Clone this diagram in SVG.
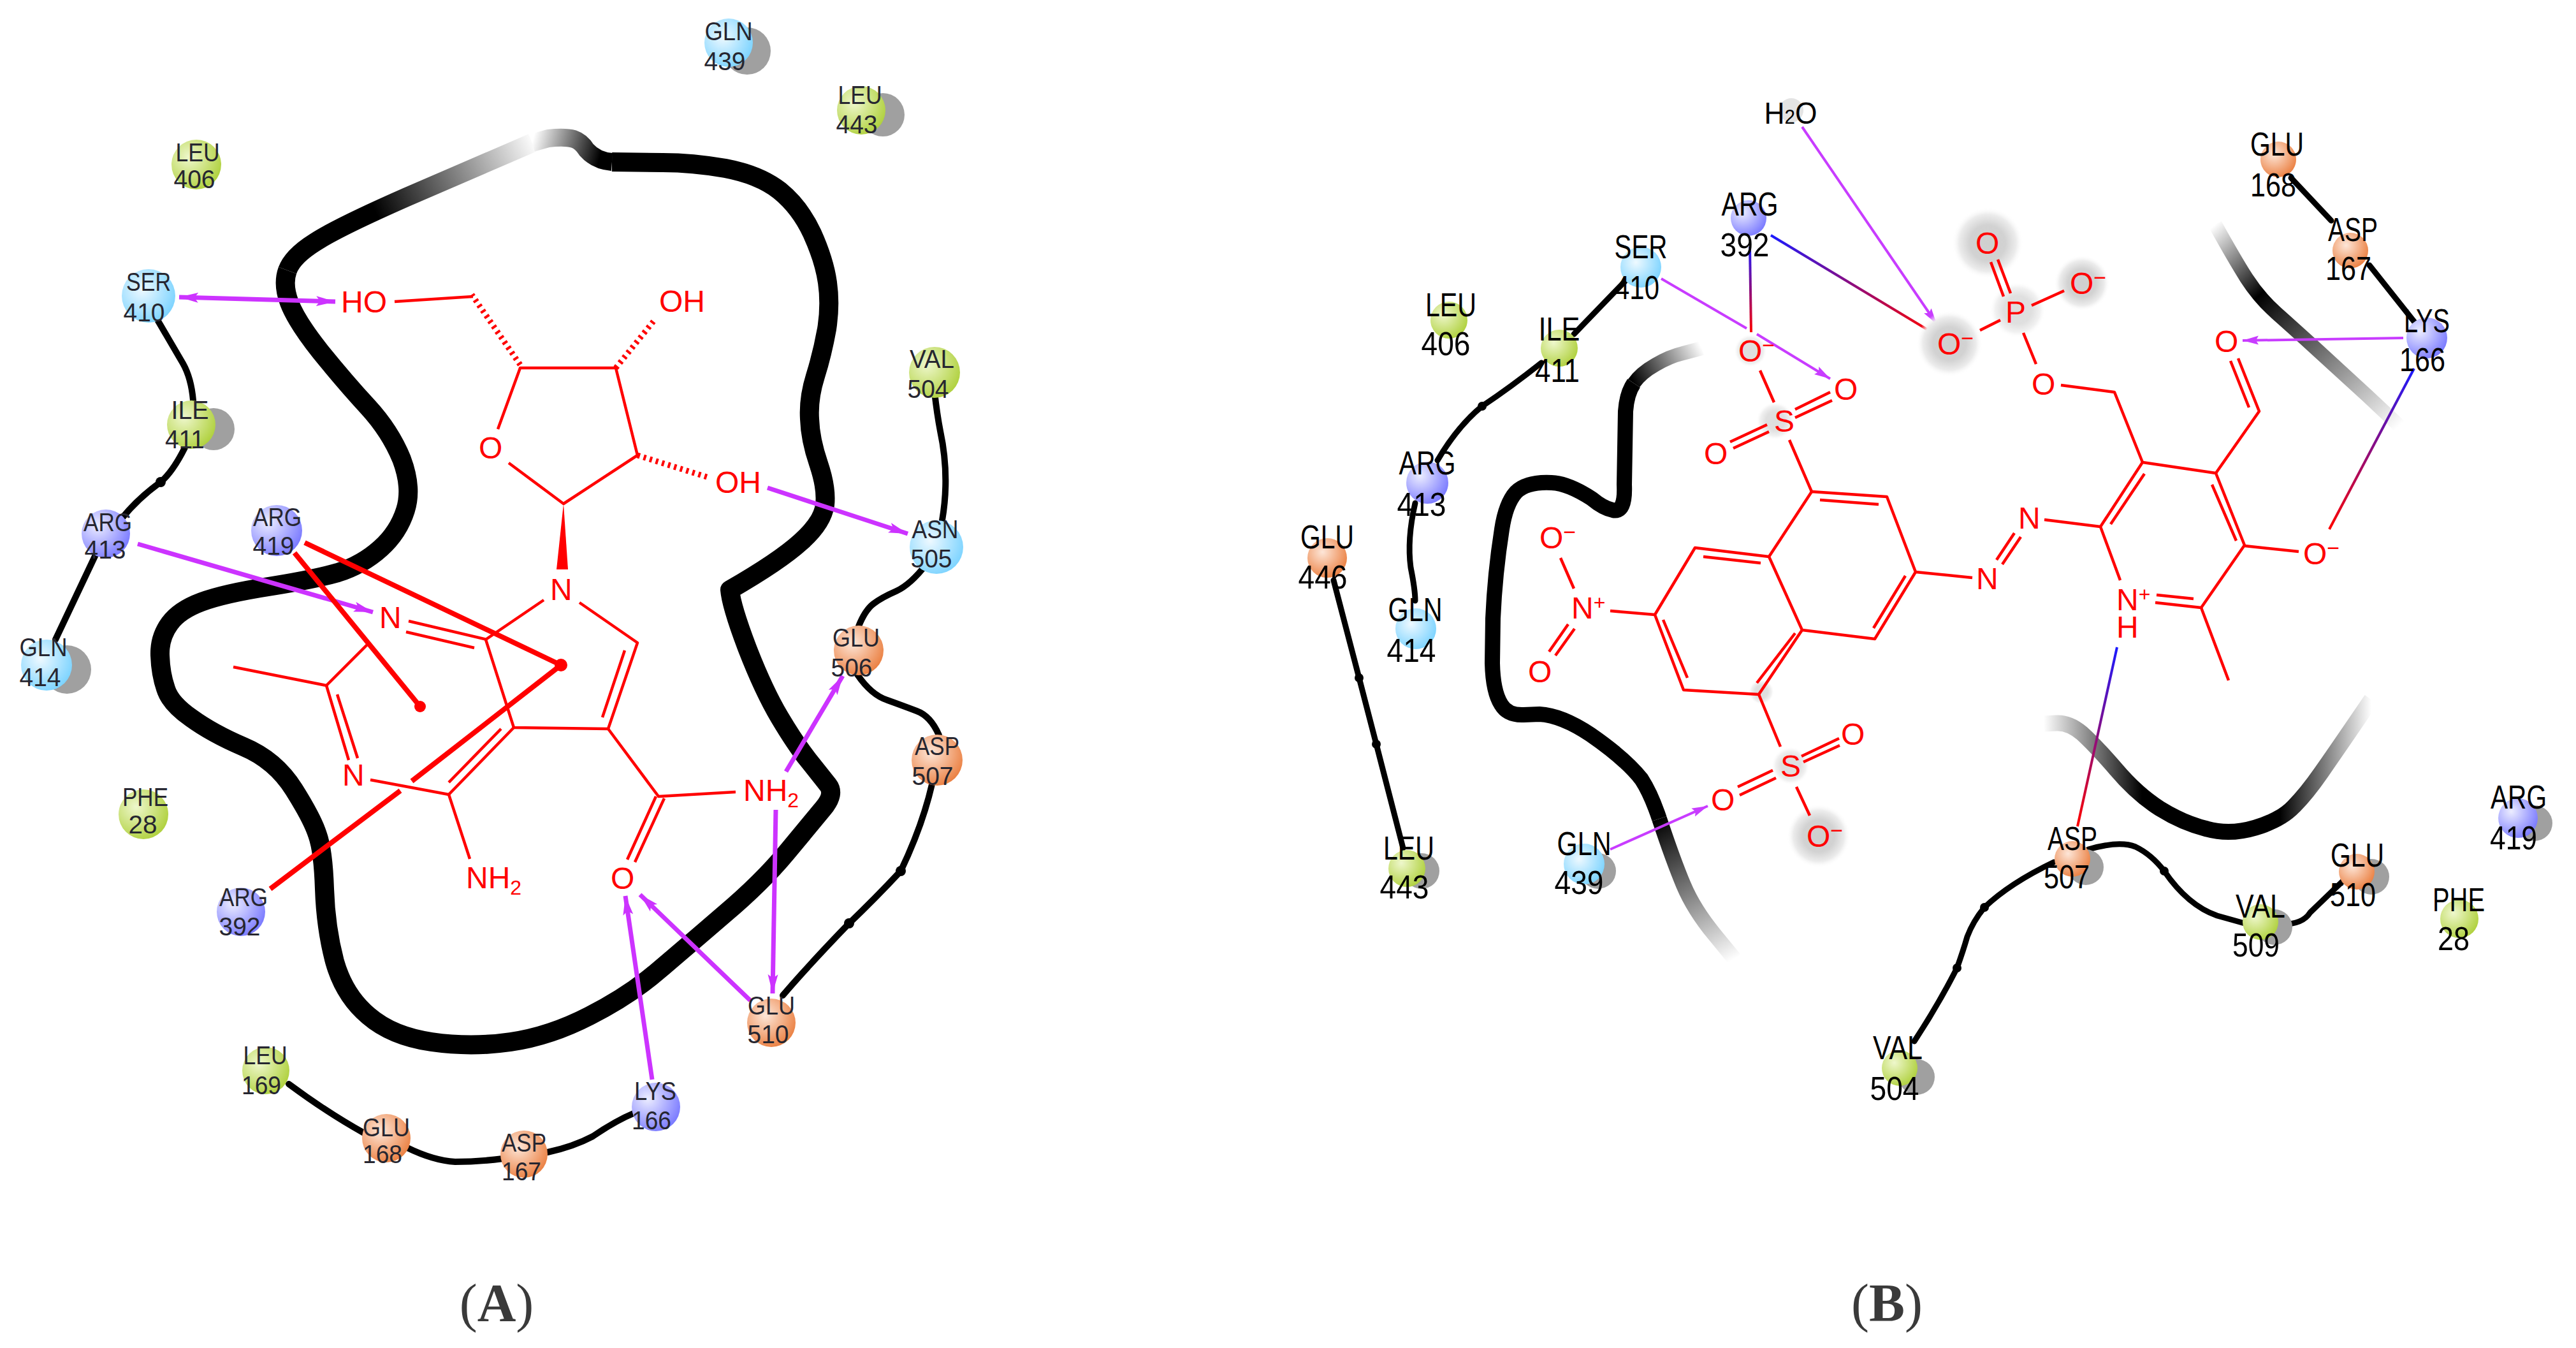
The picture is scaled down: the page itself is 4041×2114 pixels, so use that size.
<svg xmlns="http://www.w3.org/2000/svg" width="4041" height="2114" viewBox="0 0 4041 2114">
<style>
text{font-family:"Liberation Sans",Arial,sans-serif}
.la{font-size:40px;fill:#262630;text-anchor:middle}
.lb{font-size:52px;fill:#000;text-anchor:middle}
.ma{font-size:48px;fill:#f00}
.mb{font-size:48px;fill:#f00}
.cap{font-family:"Liberation Serif","Times New Roman",serif;font-size:84px;fill:#3a3a3a;text-anchor:middle}
.cap tspan{font-weight:bold}
.gn{fill:url(#nGreen)}.cy{fill:url(#nCyan)}.or{fill:url(#nOrange)}.bl{fill:url(#nBlue)}
.sh{fill:#a0a0a0}
.mem{fill:none;stroke:#000;stroke-linejoin:round}
.chA{fill:none;stroke:#000;stroke-width:10;stroke-linecap:round;stroke-linejoin:round}
.chB{fill:none;stroke:#000;stroke-width:9;stroke-linecap:round;stroke-linejoin:round}
.pa{fill:none;stroke:#cc33ff;stroke-width:7}
.pb{fill:none;stroke:#c83cff;stroke-width:4}
.r{fill:none;stroke:#f00;stroke-width:4.5;stroke-linejoin:round}
.rt{fill:none;stroke:#f00;stroke-width:8}
.rh{fill:none;stroke:#f00;stroke-width:9;stroke-dasharray:4 6}
.halo{fill:url(#halo)}
</style>
<defs>
<radialGradient id="nGreen" cx=".35" cy=".35" r=".8"><stop offset="0" stop-color="#eef7cc"/><stop offset="1" stop-color="#a8cc2c"/></radialGradient>
<radialGradient id="nCyan" cx=".38" cy=".38" r=".8"><stop offset="0" stop-color="#eef9ff"/><stop offset="1" stop-color="#66ccff"/></radialGradient>
<radialGradient id="nOrange" cx=".38" cy=".35" r=".8"><stop offset="0" stop-color="#fde6d8"/><stop offset="1" stop-color="#e8702a"/></radialGradient>
<radialGradient id="nBlue" cx=".33" cy=".33" r=".85"><stop offset="0" stop-color="#ecedff"/><stop offset="1" stop-color="#6868ff"/></radialGradient>
<radialGradient id="halo"><stop offset="0" stop-color="#cfcfcf"/><stop offset=".5" stop-color="#d2d2d2"/><stop offset=".8" stop-color="#ececec"/><stop offset="1" stop-color="#fff" stop-opacity="0"/></radialGradient>
<linearGradient id="mA1" gradientUnits="userSpaceOnUse" x1="840" y1="222" x2="590" y2="335"><stop offset="0" stop-color="#fff"/><stop offset="1" stop-color="#000"/></linearGradient>
<linearGradient id="mA2" gradientUnits="userSpaceOnUse" x1="835" y1="222" x2="940" y2="250"><stop offset="0" stop-color="#fff"/><stop offset="1" stop-color="#000"/></linearGradient>
<linearGradient id="mB1" gradientUnits="userSpaceOnUse" x1="2670" y1="546" x2="2563" y2="601"><stop offset="0" stop-color="#fff"/><stop offset="1" stop-color="#000"/></linearGradient>
<linearGradient id="mB2" gradientUnits="userSpaceOnUse" x1="2603" y1="1284" x2="2721" y2="1504"><stop offset="0" stop-color="#000"/><stop offset="1" stop-color="#fff"/></linearGradient>
<linearGradient id="mB3" gradientUnits="userSpaceOnUse" x1="3475" y1="352" x2="3764" y2="668"><stop offset="0" stop-color="#fff"/><stop offset=".3" stop-color="#000"/><stop offset="1" stop-color="#fff"/></linearGradient>
<linearGradient id="mB4" gradientUnits="userSpaceOnUse" x1="3206" y1="0" x2="3720" y2="0"><stop offset="0" stop-color="#fff"/><stop offset=".3" stop-color="#000"/><stop offset=".72" stop-color="#000"/><stop offset="1" stop-color="#fff"/></linearGradient>
<linearGradient id="bg1" gradientUnits="userSpaceOnUse" x1="3787" y1="578" x2="3654" y2="830"><stop offset="0" stop-color="#1a1aff"/><stop offset="1" stop-color="#f00"/></linearGradient>
<linearGradient id="bg2" gradientUnits="userSpaceOnUse" x1="2745" y1="387" x2="2747" y2="521"><stop offset="0" stop-color="#1a1aff"/><stop offset="1" stop-color="#f00"/></linearGradient>
<linearGradient id="bg3" gradientUnits="userSpaceOnUse" x1="2778" y1="369" x2="3032" y2="522"><stop offset="0" stop-color="#1a1aff"/><stop offset="1" stop-color="#f00"/></linearGradient>
<linearGradient id="bg4" gradientUnits="userSpaceOnUse" x1="3321" y1="1015" x2="3259" y2="1296"><stop offset="0" stop-color="#1a1aff"/><stop offset="1" stop-color="#f00"/></linearGradient>
<marker id="hA" markerUnits="userSpaceOnUse" markerWidth="32" markerHeight="20" refX="30" refY="10" orient="auto-start-reverse"><path d="M0 2L30 10L0 18L6 10Z" fill="#cc33ff"/></marker>
<marker id="hB" markerUnits="userSpaceOnUse" markerWidth="26" markerHeight="16" refX="25" refY="8" orient="auto"><path d="M0 1L25 8L0 15L4 8Z" fill="#c83cff"/></marker>
</defs>

<g id="surfaces">
<path class="mem" stroke-width="30" style="stroke:url(#mA1)" d="M835 224L638 309Q529 357 494 380Q459 402 451 424"/>
<path class="mem" stroke-width="30" d="M451 424Q443 446 454 475Q465 504 503 552Q542 600 577 638Q612 676 630 720Q647 765 636 800Q625 835 597 860Q568 886 530 898Q491 909 421 920Q351 931 316 944Q281 957 266 978Q250 1000 251 1028Q252 1057 260 1080Q267 1103 300 1126Q333 1150 382 1171Q432 1192 461 1238Q490 1284 498 1309Q507 1334 509 1394Q511 1455 525 1508Q540 1561 578 1593Q615 1625 677 1634Q739 1643 801 1634Q863 1625 925 1593Q988 1561 1033 1522Q1079 1483 1137 1433Q1195 1384 1234 1337Q1273 1290 1292 1267Q1310 1245 1299 1231Q1288 1217 1268 1192Q1248 1167 1223 1125Q1198 1083 1172 1016Q1147 950 1145 925Q1223 880 1256 850Q1290 820 1294 792Q1297 765 1284 727Q1271 689 1270 657Q1268 625 1279 590Q1290 555 1297 516Q1303 478 1298 443Q1293 408 1274 366Q1255 325 1223 299Q1191 274 1138 264Q1086 255 1040 255L960 254"/>
<path class="mem" stroke-width="28" style="stroke:url(#mA2)" d="M960 254Q935 252 920 235Q912 222 900 218Q886 214 860 217L835 224"/>
<path class="mem" stroke-width="22" style="stroke:url(#mB1)" d="M2670 546L2640 554Q2619 559 2597 572Q2574 585 2563 601"/>
<path class="mem" stroke-width="24" d="M2563 601Q2552 617 2550 645L2548 760Q2550 805 2530 800Q2515 797 2497 782Q2460 758 2434 757Q2395 755 2378 772Q2362 790 2356 830Q2345 900 2342 970L2341 1040Q2342 1085 2355 1105Q2365 1122 2390 1121L2415 1120Q2450 1122 2495 1152Q2550 1190 2575 1222Q2590 1245 2603 1284"/>
<path class="mem" stroke-width="24" style="stroke:url(#mB2)" d="M2603 1284Q2625 1350 2641 1388Q2657 1426 2689 1465L2721 1504"/>
<path class="mem" stroke-width="22" style="stroke:url(#mB3)" d="M3475 352Q3505 406 3524 436Q3544 467 3571 491Q3598 515 3631 545Q3664 575 3714 621L3764 668"/>
<path class="mem" stroke-width="25" style="stroke:url(#mB4)" d="M3206 1135L3226 1134Q3246 1133 3266 1150Q3286 1168 3319 1206Q3352 1245 3388 1268Q3425 1291 3462 1300Q3498 1310 3538 1298Q3578 1286 3598 1265Q3618 1245 3641 1212Q3664 1179 3692 1138L3720 1097"/>
</g>

<g id="connectors">
<path class="chA" d="M246 500Q274 548 287 570Q300 593 303 628"/>
<path class="chA" d="M290 702Q271 740 252 756Q217 781 191 813"/><circle cx="252" cy="756" r="8"/>
<path class="chA" d="M150 870L87 1003"/>
<path class="chA" d="M1466 615Q1470 650 1475 676Q1490 746 1478 816"/>
<path class="chA" d="M1453 885Q1428 917 1406 927Q1383 937 1370 947Q1357 957 1347 982"/>
<path class="chA" d="M1345 1058Q1367 1090 1392 1098Q1417 1107 1438 1115Q1460 1123 1473 1153"/>
<path class="chA" d="M1462 1230Q1447 1295 1413 1366Q1372 1410 1332 1448Q1270 1512 1228 1561"/><circle cx="1413" cy="1366" r="8"/><circle cx="1332" cy="1448" r="8"/>
<path class="chA" d="M453 1700Q515 1746 573 1778"/>
<path class="chA" d="M639 1800Q680 1820 714 1822Q750 1822 789 1817"/>
<path class="chA" d="M859 1807Q900 1798 930 1782Q965 1758 996 1745"/>
<path class="pa" marker-start="url(#hA)" marker-end="url(#hA)" d="M281 466L526 473"/>
<path class="pa" marker-end="url(#hA)" d="M216 853L585 960"/>
<path class="pa" marker-end="url(#hA)" d="M1204 765L1424 837"/>
<path class="pa" marker-end="url(#hA)" d="M1233 1210L1322 1060"/>
<path class="pa" marker-end="url(#hA)" d="M1217 1270L1212 1558"/>
<path class="pa" marker-end="url(#hA)" d="M1177 1569L1004 1403"/>
<path class="pa" marker-end="url(#hA)" d="M1023 1693L981 1405"/>
<path class="rt" d="M478 851L880 1043"/>
<path class="rt" d="M462 867L659 1108"/>
<path class="rt" d="M424 1394L628 1240M646 1225L880 1043"/>
<circle cx="880" cy="1043" r="10" fill="#f00"/><circle cx="659" cy="1108" r="9" fill="#f00"/>

<path class="chB" d="M2552 438L2469 524"/>
<path class="chB" d="M2418 569Q2370 607 2325 637Q2287 668 2255 722"/><circle cx="2325" cy="637" r="7"/>
<path class="chB" d="M2220 789Q2207 846 2213 890Q2220 925 2220 942"/>
<path class="chB" d="M2092 910L2132 1063L2159 1167L2201 1330"/><circle cx="2132" cy="1063" r="7"/><circle cx="2159" cy="1167" r="7"/>
<path class="chB" d="M3594 279L3657 346"/>
<path class="chB" d="M3717 416L3790 508"/>
<path class="chB" d="M3003 1633Q3040 1577 3070 1518Q3080 1490 3086 1469Q3095 1445 3113 1423Q3153 1385 3222 1352"/><circle cx="3070" cy="1518" r="7"/><circle cx="3113" cy="1423" r="7"/>
<path class="chB" d="M3276 1332Q3325 1318 3350 1328Q3375 1340 3395 1366Q3432 1420 3478 1436L3521 1448"/><circle cx="3395" cy="1366" r="7"/>
<path class="chB" d="M3571 1449Q3611 1452 3624 1431L3677 1380"/>
<path fill="none" stroke="url(#bg1)" stroke-width="4" d="M3787 578L3654 830"/>
<path fill="none" stroke="url(#bg2)" stroke-width="4" d="M2745 387L2747 521"/>
<path fill="none" stroke="url(#bg3)" stroke-width="4" d="M2778 369L3032 522"/>
<path fill="none" stroke="url(#bg4)" stroke-width="4" d="M3321 1015L3259 1296"/>
<path class="pb" marker-end="url(#hB)" d="M2827 199L3038 508"/>
<path class="pb" marker-end="url(#hB)" d="M2606 437L2740 515M2756 524L2871 594"/>
<path class="pb" marker-end="url(#hB)" d="M2526 1332L2679 1264"/>
<path class="pb" marker-end="url(#hB)" d="M3770 530L3518 534"/>
</g>

<g id="a-leu-406"><circle class="gn" cx="308" cy="258" r="39"/><text class="la" x="310" y="253" textLength="69" lengthAdjust="spacingAndGlyphs">LEU</text><text class="la" x="305" y="295" textLength="65" lengthAdjust="spacingAndGlyphs">406</text></g>
<g id="a-ser-410"><circle class="cy" cx="233" cy="464" r="42"/><text class="la" x="233" y="456" textLength="70" lengthAdjust="spacingAndGlyphs">SER</text><text class="la" x="226" y="504" textLength="65" lengthAdjust="spacingAndGlyphs">410</text></g>
<g id="a-ile-411"><circle class="sh" cx="335" cy="673" r="33"/><circle class="gn" cx="300" cy="666" r="38"/><text class="la" x="298" y="657" textLength="59" lengthAdjust="spacingAndGlyphs">ILE</text><text class="la" x="290" y="703" textLength="62" lengthAdjust="spacingAndGlyphs">411</text></g>
<g id="a-arg-413"><circle class="bl" cx="166" cy="837" r="38"/><text class="la" x="169" y="833" textLength="76" lengthAdjust="spacingAndGlyphs">ARG</text><text class="la" x="165" y="876" textLength="65" lengthAdjust="spacingAndGlyphs">413</text></g>
<g id="a-arg-419"><circle class="bl" cx="434" cy="832" r="40"/><text class="la" x="435" y="825" textLength="76" lengthAdjust="spacingAndGlyphs">ARG</text><text class="la" x="429" y="870" textLength="65" lengthAdjust="spacingAndGlyphs">419</text></g>
<g id="a-gln-439"><circle class="sh" cx="1172" cy="80" r="37"/><circle class="cy" cx="1143" cy="67" r="38"/><text class="la" x="1143" y="63" textLength="75" lengthAdjust="spacingAndGlyphs">GLN</text><text class="la" x="1137" y="110" textLength="65" lengthAdjust="spacingAndGlyphs">439</text></g>
<g id="a-leu-443"><circle class="sh" cx="1385" cy="180" r="34"/><circle class="gn" cx="1351" cy="173" r="38"/><text class="la" x="1349" y="163" textLength="69" lengthAdjust="spacingAndGlyphs">LEU</text><text class="la" x="1344" y="209" textLength="65" lengthAdjust="spacingAndGlyphs">443</text></g>
<g id="a-val-504"><circle class="gn" cx="1466" cy="584" r="40"/><text class="la" x="1462" y="577" textLength="70" lengthAdjust="spacingAndGlyphs">VAL</text><text class="la" x="1456" y="624" textLength="65" lengthAdjust="spacingAndGlyphs">504</text></g>
<g id="a-asn-505"><circle class="cy" cx="1469" cy="858" r="42"/><text class="la" x="1467" y="844" textLength="73" lengthAdjust="spacingAndGlyphs">ASN</text><text class="la" x="1461" y="890" textLength="65" lengthAdjust="spacingAndGlyphs">505</text></g>
<g id="a-glu-506"><circle class="or" cx="1347" cy="1020" r="39"/><text class="la" x="1343" y="1014" textLength="74" lengthAdjust="spacingAndGlyphs">GLU</text><text class="la" x="1336" y="1061" textLength="65" lengthAdjust="spacingAndGlyphs">506</text></g>
<g id="a-asp-507"><circle class="or" cx="1470" cy="1192" r="40"/><text class="la" x="1470" y="1184" textLength="70" lengthAdjust="spacingAndGlyphs">ASP</text><text class="la" x="1463" y="1231" textLength="65" lengthAdjust="spacingAndGlyphs">507</text></g>
<g id="a-glu-510"><circle class="or" cx="1210" cy="1604" r="38"/><text class="la" x="1210" y="1591" textLength="74" lengthAdjust="spacingAndGlyphs">GLU</text><text class="la" x="1205" y="1636" textLength="65" lengthAdjust="spacingAndGlyphs">510</text></g>
<g id="a-arg-392"><circle class="bl" cx="378" cy="1430" r="38"/><text class="la" x="382" y="1421" textLength="76" lengthAdjust="spacingAndGlyphs">ARG</text><text class="la" x="376" y="1467" textLength="65" lengthAdjust="spacingAndGlyphs">392</text></g>
<g id="a-phe-28"><circle class="gn" cx="225" cy="1277" r="39"/><text class="la" x="228" y="1264" textLength="72" lengthAdjust="spacingAndGlyphs">PHE</text><text class="la" x="224" y="1307" textLength="45" lengthAdjust="spacingAndGlyphs">28</text></g>
<g id="a-gln-414"><circle class="sh" cx="105" cy="1050" r="38"/><circle class="cy" cx="73" cy="1043" r="40"/><text class="la" x="68" y="1029" textLength="75" lengthAdjust="spacingAndGlyphs">GLN</text><text class="la" x="63" y="1076" textLength="65" lengthAdjust="spacingAndGlyphs">414</text></g>
<g id="a-leu-169"><circle class="gn" cx="417" cy="1679" r="37"/><text class="la" x="416" y="1669" textLength="69" lengthAdjust="spacingAndGlyphs">LEU</text><text class="la" x="410" y="1716" textLength="62" lengthAdjust="spacingAndGlyphs">169</text></g>
<g id="a-glu-168"><circle class="or" cx="606" cy="1785" r="38"/><text class="la" x="606" y="1782" textLength="74" lengthAdjust="spacingAndGlyphs">GLU</text><text class="la" x="600" y="1824" textLength="62" lengthAdjust="spacingAndGlyphs">168</text></g>
<g id="a-asp-167"><circle class="or" cx="822" cy="1810" r="37"/><text class="la" x="822" y="1806" textLength="70" lengthAdjust="spacingAndGlyphs">ASP</text><text class="la" x="818" y="1851" textLength="62" lengthAdjust="spacingAndGlyphs">167</text></g>
<g id="a-lys-166"><circle class="bl" cx="1029" cy="1736" r="38"/><text class="la" x="1028" y="1725" textLength="66" lengthAdjust="spacingAndGlyphs">LYS</text><text class="la" x="1022" y="1771" textLength="62" lengthAdjust="spacingAndGlyphs">166</text></g>

<g id="a-ligand">
<path class="r" d="M781 673L816 577L966 577L1000 714L884 790L798 726"/>
<path class="rh" d="M816 572L740 462"/>
<path class="r" d="M742 465L619 473"/>
<path class="rh" d="M966 577L1025 504"/>
<path class="rh" d="M1000 714L1112 749"/>
<path d="M884 790L873 893L891 893Z" fill="#f00"/>
<path class="r" d="M853 941L762 1003L806 1141L954 1143L1000 1008L909 945"/>
<path class="r" d="M980 1020L945 1125"/>
<path class="r" d="M641 974L764 1003M637 991L744 1016"/>
<path class="r" d="M579 1008L512 1075L366 1046"/>
<path class="r" d="M512 1075L547 1192M529 1089L561 1189"/>
<path class="r" d="M581 1223L704 1246L806 1141M704 1227L786 1143"/>
<path class="r" d="M704 1246L737 1347"/>
<path class="r" d="M954 1143L1033 1249L1154 1242"/>
<path class="r" d="M1042 1252L996 1352M1029 1249L984 1348"/>
<text class="ma" x="535" y="490">HO</text>
<text class="ma" x="1034" y="489">OH</text>
<text class="ma" x="1122" y="773">OH</text>
<text class="ma" x="751" y="719">O</text>
<text class="ma" x="863" y="941">N</text>
<text class="ma" x="595" y="985">N</text>
<text class="ma" x="537" y="1232">N</text>
<text class="ma" x="731" y="1393">NH<tspan font-size="32" dy="10">2</tspan></text>
<text class="ma" x="1166" y="1256">NH<tspan font-size="32" dy="10">2</tspan></text>
<text class="ma" x="958" y="1394">O</text>
</g>

<g id="b-h2o"><circle cx="2810" cy="173" r="19" fill="#e4e4e4"/><text class="lb" style="font-size:48px" x="2809" y="194" textLength="83" lengthAdjust="spacingAndGlyphs">H<tspan font-size="32">2</tspan>O</text></g>
<g id="b-arg-392"><circle class="bl" cx="2743" cy="342" r="28"/><text class="lb" x="2745" y="338" textLength="89" lengthAdjust="spacingAndGlyphs">ARG</text><text class="lb" x="2737" y="402" textLength="77" lengthAdjust="spacingAndGlyphs">392</text></g>
<g id="b-ser-410"><circle class="cy" cx="2574" cy="419" r="32"/><text class="lb" x="2574" y="405" textLength="83" lengthAdjust="spacingAndGlyphs">SER</text><text class="lb" x="2568" y="469" textLength="70" lengthAdjust="spacingAndGlyphs">410</text></g>
<g id="b-leu-406"><circle class="gn" cx="2273" cy="502" r="29"/><text class="lb" x="2276" y="496" textLength="80" lengthAdjust="spacingAndGlyphs">LEU</text><text class="lb" x="2268" y="557" textLength="77" lengthAdjust="spacingAndGlyphs">406</text></g>
<g id="b-ile-411"><circle class="gn" cx="2446" cy="546" r="29"/><text class="lb" x="2446" y="534" textLength="65" lengthAdjust="spacingAndGlyphs">ILE</text><text class="lb" x="2443" y="599" textLength="70" lengthAdjust="spacingAndGlyphs">411</text></g>
<g id="b-arg-413"><circle class="bl" cx="2239" cy="757" r="33"/><text class="lb" x="2239" y="744" textLength="89" lengthAdjust="spacingAndGlyphs">ARG</text><text class="lb" x="2230" y="809" textLength="77" lengthAdjust="spacingAndGlyphs">413</text></g>
<g id="b-glu-446"><circle class="or" cx="2082" cy="875" r="31"/><text class="lb" x="2082" y="860" textLength="84" lengthAdjust="spacingAndGlyphs">GLU</text><text class="lb" x="2075" y="923" textLength="77" lengthAdjust="spacingAndGlyphs">446</text></g>
<g id="b-gln-414"><circle class="cy" cx="2221" cy="986" r="32"/><text class="lb" x="2220" y="974" textLength="85" lengthAdjust="spacingAndGlyphs">GLN</text><text class="lb" x="2214" y="1038" textLength="77" lengthAdjust="spacingAndGlyphs">414</text></g>
<g id="b-leu-443"><circle class="sh" cx="2230" cy="1366" r="28"/><circle class="gn" cx="2207" cy="1362" r="29"/><text class="lb" x="2210" y="1348" textLength="80" lengthAdjust="spacingAndGlyphs">LEU</text><text class="lb" x="2203" y="1409" textLength="77" lengthAdjust="spacingAndGlyphs">443</text></g>
<g id="b-gln-439"><circle class="sh" cx="2507" cy="1366" r="28"/><circle class="cy" cx="2485" cy="1355" r="32"/><text class="lb" x="2485" y="1341" textLength="85" lengthAdjust="spacingAndGlyphs">GLN</text><text class="lb" x="2477" y="1402" textLength="77" lengthAdjust="spacingAndGlyphs">439</text></g>
<g id="b-glu-168"><circle class="or" cx="3574" cy="250" r="28"/><text class="lb" x="3572" y="244" textLength="84" lengthAdjust="spacingAndGlyphs">GLU</text><text class="lb" x="3566" y="308" textLength="72" lengthAdjust="spacingAndGlyphs">168</text></g>
<g id="b-asp-167"><circle class="or" cx="3687" cy="393" r="28"/><text class="lb" x="3691" y="378" textLength="78" lengthAdjust="spacingAndGlyphs">ASP</text><text class="lb" x="3684" y="439" textLength="72" lengthAdjust="spacingAndGlyphs">167</text></g>
<g id="b-lys-166"><circle class="bl" cx="3807" cy="530" r="32"/><text class="lb" x="3807" y="521" textLength="72" lengthAdjust="spacingAndGlyphs">LYS</text><text class="lb" x="3800" y="582" textLength="72" lengthAdjust="spacingAndGlyphs">166</text></g>
<g id="b-asp-507"><circle class="sh" cx="3272" cy="1360" r="28"/><circle class="or" cx="3251" cy="1347" r="28"/><text class="lb" x="3251" y="1333" textLength="78" lengthAdjust="spacingAndGlyphs">ASP</text><text class="lb" x="3242" y="1393" textLength="72" lengthAdjust="spacingAndGlyphs">507</text></g>
<g id="b-val-509"><circle class="sh" cx="3568" cy="1454" r="28"/><circle class="gn" cx="3546" cy="1446" r="28"/><text class="lb" x="3546" y="1439" textLength="78" lengthAdjust="spacingAndGlyphs">VAL</text><text class="lb" x="3539" y="1500" textLength="74" lengthAdjust="spacingAndGlyphs">509</text></g>
<g id="b-glu-510"><circle class="sh" cx="3720" cy="1375" r="28"/><circle class="or" cx="3697" cy="1367" r="28"/><text class="lb" x="3698" y="1359" textLength="84" lengthAdjust="spacingAndGlyphs">GLU</text><text class="lb" x="3691" y="1421" textLength="72" lengthAdjust="spacingAndGlyphs">510</text></g>
<g id="b-arg-419"><circle class="sh" cx="3976" cy="1291" r="28"/><circle class="bl" cx="3950" cy="1283" r="31"/><text class="lb" x="3951" y="1268" textLength="88" lengthAdjust="spacingAndGlyphs">ARG</text><text class="lb" x="3943" y="1332" textLength="74" lengthAdjust="spacingAndGlyphs">419</text></g>
<g id="b-phe-28"><circle class="gn" cx="3858" cy="1441" r="30"/><text class="lb" x="3857" y="1429" textLength="82" lengthAdjust="spacingAndGlyphs">PHE</text><text class="lb" x="3849" y="1490" textLength="50" lengthAdjust="spacingAndGlyphs">28</text></g>
<g id="b-val-504"><circle class="sh" cx="3007" cy="1689" r="28"/><circle class="gn" cx="2980" cy="1675" r="28"/><text class="lb" x="2977" y="1661" textLength="78" lengthAdjust="spacingAndGlyphs">VAL</text><text class="lb" x="2972" y="1725" textLength="77" lengthAdjust="spacingAndGlyphs">504</text></g>

<g id="b-ligand">
<circle class="halo" cx="3118" cy="381" r="56"/>
<circle class="halo" cx="3266" cy="444" r="44"/>
<circle class="halo" cx="3058" cy="539" r="52"/>
<circle class="halo" cx="3165" cy="486" r="44" opacity=".7"/>
<circle class="halo" cx="2853" cy="1311" r="50"/>
<circle class="halo" cx="2746" cy="550" r="26" opacity=".7"/>
<circle class="halo" cx="2785" cy="660" r="30" opacity=".7"/>
<circle class="halo" cx="2809" cy="1201" r="30" opacity=".7"/>
<circle class="halo" cx="2763" cy="1085" r="20" opacity=".7"/>
<path class="r" d="M2842 771L2960 779L3005 897L2941 1002L2827 988L2775 873Z"/>
<path class="r" d="M2855 784L2947 791M2989 903L2939 985M2816 993L2756 1071"/>
<path class="r" d="M2775 873L2659 859L2596 964L2641 1082L2759 1089L2827 988"/>
<path class="r" d="M2672 873L2762 883M2609 972L2647 1063"/>
<path class="r" d="M2842 771L2807 690M2761 581L2783 631"/>
<path class="r" d="M2816 642L2871 615M2816 655L2874 628M2714 693L2772 666M2719 703L2775 677"/>
<path class="r" d="M2596 964L2526 958M2448 875L2469 923M2460 979L2430 1022M2470 986L2440 1028"/>
<path class="r" d="M2759 1089L2793 1171M2826 1186L2885 1158M2829 1195L2886 1169M2726 1234L2781 1208M2729 1247L2786 1220M2818 1234L2839 1279"/>
<path class="r" d="M3005 897L3094 906M3132 878L3160 836M3141 885L3170 842M3207 815L3295 826"/>
<path class="r" d="M3295 826L3361 725L3476 742L3521 855L3453 953M3311 822L3364 743M3470 760L3508 848M3295 826L3326 910"/>
<path class="r" d="M3381 945L3453 953M3383 933L3441 939M3453 953L3496 1067"/>
<path class="r" d="M3361 725L3317 615L3233 604M3194 571L3174 522"/>
<path class="r" d="M3154 460L3134 407M3143 465L3123 411M3187 479L3238 456M3138 502L3106 518"/>
<path class="r" d="M3476 742L3544 645L3511 562M3528 639L3499 566M3521 856L3606 865"/>
<text class="mb" x="2727" y="567">O<tspan font-size="34" dy="-14">−</tspan></text>
<text class="mb" x="2783" y="677">S</text>
<text class="mb" x="2877" y="627">O</text>
<text class="mb" x="2673" y="728">O</text>
<text class="mb" x="2465" y="970">N<tspan font-size="32" dy="-14">+</tspan></text>
<text class="mb" x="2415" y="860">O<tspan font-size="34" dy="-14">−</tspan></text>
<text class="mb" x="2397" y="1070">O</text>
<text class="mb" x="2793" y="1218">S</text>
<text class="mb" x="2888" y="1168">O</text>
<text class="mb" x="2684" y="1271">O</text>
<text class="mb" x="2834" y="1328">O<tspan font-size="34" dy="-14">−</tspan></text>
<text class="mb" x="3100" y="924">N</text>
<text class="mb" x="3166" y="829">N</text>
<text class="mb" x="3320" y="957">N<tspan font-size="32" dy="-14">+</tspan></text>
<text class="mb" x="3320" y="1000">H</text>
<text class="mb" x="3187" y="619">O</text>
<text class="mb" x="3146" y="506">P</text>
<text class="mb" x="3099" y="398">O</text>
<text class="mb" x="3247" y="461">O<tspan font-size="34" dy="-14">−</tspan></text>
<text class="mb" x="3039" y="556">O<tspan font-size="34" dy="-14">−</tspan></text>
<text class="mb" x="3474" y="552">O</text>
<text class="mb" x="3613" y="885">O<tspan font-size="34" dy="-14">−</tspan></text>
</g>

<text class="cap" x="779" y="2072">(<tspan>A</tspan>)</text>
<text class="cap" x="2960" y="2072">(<tspan>B</tspan>)</text>
</svg>
